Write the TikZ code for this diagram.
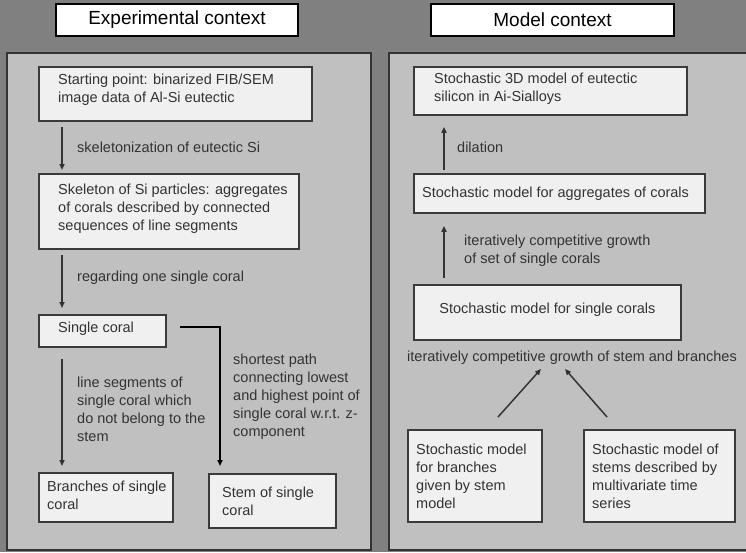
\documentclass[tikz,border=0pt]{standalone}
\usepackage{fontspec}
\setmainfont{Liberation Sans}
\usetikzlibrary{arrows.meta,calc}
\definecolor{outergray}{HTML}{808080}
\definecolor{panelgray}{HTML}{C0C0C0}
\definecolor{boxfill}{HTML}{F0F0F0}
\definecolor{boxedge}{HTML}{3A3A3A}
\definecolor{inkgray}{HTML}{333333}
\tikzset{
  panel/.style={draw=inkgray, fill=panelgray, line width=1.2pt},
  headbox/.style={draw=black, fill=white, line width=2.6pt, minimum height=32pt, font=\fontsize{19}{23}\selectfont},
  box/.style={draw=boxedge, fill=boxfill, line width=1.8pt, anchor=north west, inner sep=0pt},
  boxtext/.style={anchor=west, align=left, inner sep=0pt, text=inkgray, font=\fontsize{14.5}{18}\selectfont},
  arr/.style={-{Triangle[length=6pt,width=5pt]}, line width=1.5pt, draw=inkgray},
}

\begin{document}
\begin{tikzpicture}[x=1pt,y=-1pt]
        \useasboundingbox (0,0) rectangle (746,552);
        \fill[outergray] (0,0) rectangle (746,552);
        \draw[panel] (7,53) rectangle (371,550);
        \draw[panel] (389,53) rectangle (752,550);
        \node[headbox, minimum width=242pt] (exphead) at (177,20) {Experimental context};
        \node[headbox, minimum width=243pt] (modelhead) at (552.5,20) {Model context};
        % experimental context
        \node[box, minimum width=273pt, minimum height=54pt] (start) at (38,66) {};
        \node[boxtext] (starttxt) at ([xshift=20pt,yshift=4pt]start.west) {Starting point: binarized FIB/SEM\\image data of Al-Si eutectic};
        \node[box, minimum width=260pt, minimum height=75pt] (skel) at (38,173) {};
        \node[boxtext] (skeltxt) at ([xshift=20pt,yshift=3pt]skel.west) {Skeleton of Si particles: aggregates\\of corals described by connected\\sequences of line segments};
        \node[box, minimum width=127pt, minimum height=32pt] (single) at (38,314) {};
        \node[boxtext] (singletxt) at ([xshift=20pt,yshift=2pt]single.west) {Single coral};
        \node[box, minimum width=134pt, minimum height=49pt] (branch) at (38,472) {};
        \node[boxtext] (branchtxt) at ([xshift=9pt,yshift=2pt]branch.west) {Branches of single\\coral};
        \node[box, minimum width=127pt, minimum height=54pt] (stem) at (208,473) {};
        \node[boxtext] (stemtxt) at ([xshift=14pt]stem.west) {Stem of single\\coral};
        \node[boxtext] (skellbl) at (77,147) {skeletonization of eutectic Si};
        \node[boxtext] (singlelbl) at (77,278) {regarding one single coral};
        \node[boxtext] (branchlbl) at (77,409) {line segments of\\single coral which\\do not belong to the\\stem};
        \node[boxtext] (stemlbl) at (233,397) {shortest path\\connecting lowest\\and highest point of\\single coral w.r.t. z-\\component};
        \draw[arr] ([xshift=24pt,yshift=-5pt]start.south west) -- ([xshift=24pt,yshift=3pt]skel.north west);
        \draw[arr] ([xshift=24pt,yshift=-5pt]skel.south west) -- ([xshift=24pt,yshift=6pt]single.north west);
        \draw[arr] ([xshift=24pt,yshift=-11pt]single.south west) -- ([xshift=24pt,yshift=6pt]branch.north west);
        \draw[arr, draw=black] ([xshift=13pt,yshift=4pt]single.east) -| ([xshift=12pt,yshift=7pt]stem.north west);
        % model context
        \node[box, minimum width=273pt, minimum height=48pt] (model) at (413,66) {};
        \node[boxtext] (modeltxt) at ([xshift=21pt,yshift=2pt]model.west) {Stochastic 3D model of eutectic\\silicon in Ai-Sialloys};
        \node[box, minimum width=291pt, minimum height=39pt] (agg) at (413,173) {};
        \node[boxtext] (aggtxt) at ([xshift=9pt]agg.west) {Stochastic model for aggregates of corals};
        \node[box, minimum width=267pt, minimum height=55pt] (corals) at (413,284) {};
        \node[boxtext, anchor=center] (coralstxt) at ([yshift=3pt]corals.center) {Stochastic model for single corals};
        \node[box, minimum width=134pt, minimum height=92pt] (bmodel) at (407,429) {};
        \node[boxtext] (bmodeltxt) at ([xshift=9pt]bmodel.west) {Stochastic model\\for branches\\given by stem\\model};
        \node[box, minimum width=151pt, minimum height=92pt] (smodel) at (583,429) {};
        \node[boxtext] (smodeltxt) at ([xshift=9pt]smodel.west) {Stochastic model of\\stems described by\\multivariate time\\series};
        \node[boxtext] (dilationlbl) at (457,147) {dilation};
        \node[boxtext] (growthlbl) at (464,251) {iteratively competitive growth\\of set of single corals};
        \node[boxtext, anchor=center] (compete) at (572,358) {iteratively competitive growth of stem and branches};
        \draw[arr] ([xshift=31pt,yshift=3pt]agg.north west) -- ([xshift=31pt,yshift=-11pt]model.south west);
        \draw[arr] ([xshift=31pt,yshift=6pt]corals.north west) -- ([xshift=31pt,yshift=-12pt]agg.south west);
        \draw[arr] ([xshift=91pt,yshift=12pt]bmodel.north west) -- ([xshift=-31pt,yshift=-4pt]compete.south);
        \draw[arr] ([xshift=24pt,yshift=12pt]smodel.north west) -- ([xshift=-7pt,yshift=-4pt]compete.south);
\end{tikzpicture}
\end{document}
